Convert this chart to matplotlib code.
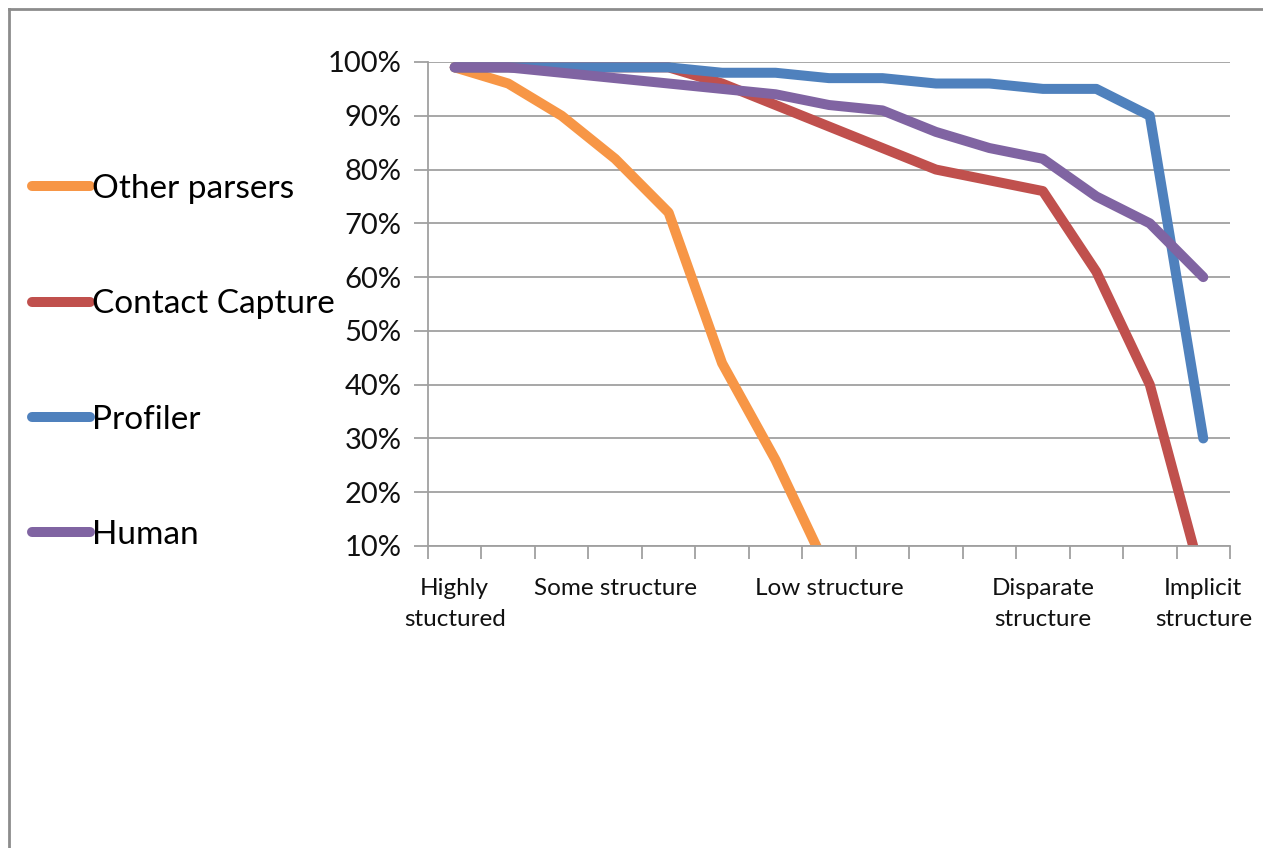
import matplotlib
matplotlib.use("Agg")
import matplotlib.pyplot as plt
from matplotlib.lines import Line2D
from matplotlib.ticker import FixedLocator, FuncFormatter

plt.rcParams['font.family'] = ['Lato', 'DejaVu Sans']

categories = list(range(1, 16))
cat_labels = {1: "Highly\nstuctured", 4: "Some structure", 8: "Low structure",
              12: "Disparate\nstructure", 15: "Implicit\nstructure"}

other_parsers   = [99, 96, 90, 82, 72, 44, 26, 5, 0, 0, 0, 0, 0, 0, 0]
contact_capture = [99, 99, 99, 99, 99, 96, 92, 88, 84, 80, 78, 76, 61, 40, 3]
profiler        = [99, 99, 99, 99, 99, 98, 98, 97, 97, 96, 96, 95, 95, 90, 30]
human           = [99, 99, 98, 97, 96, 95, 94, 92, 91, 87, 84, 82, 75, 70, 60]

series = [("Other parsers", other_parsers, "#F79646"),
          ("Contact Capture", contact_capture, "#C0504D"),
          ("Profiler", profiler, "#4F81BD"),
          ("Human", human, "#8064A2")]

fig = plt.figure(figsize=(12.63, 8.48), dpi=100)
ax = fig.add_axes([428/1263, 1-546/848, (1230-428)/1263, (546-62)/848])

LW = 7.2
for name, vals, col in series:
    ax.plot(categories, vals, color=col, lw=LW, solid_capstyle='round',
            solid_joinstyle='round', label=name)

ax.set_xlim(0.5, 15.5)
ax.set_ylim(10, 100)

grid_col = "#A0A0A0"
ax.yaxis.set_major_locator(FixedLocator(range(10, 101, 10)))
ax.yaxis.set_major_formatter(FuncFormatter(lambda v, p: f"{int(v)}%"))
ax.grid(axis='y', color=grid_col, lw=1.3)
ax.set_axisbelow(True)
ax.tick_params(axis='y', length=10, width=1.3, color=grid_col, pad=9,
               labelsize=21, labelcolor="#111111")

# category boundaries as major ticks, labels on minor ticks
ax.xaxis.set_major_locator(FixedLocator([i + 0.5 for i in range(0, 16)]))
ax.xaxis.set_major_formatter(FuncFormatter(lambda v, p: ""))
ax.tick_params(axis='x', which='major', length=9, width=1.3, color=grid_col)
ax.xaxis.set_minor_locator(FixedLocator(list(cat_labels.keys())))
ax.set_xticklabels([cat_labels[k] for k in cat_labels], minor=True)
ax.tick_params(axis='x', which='minor', length=0, pad=23, labelsize=17.5,
               labelcolor="#111111")
for t in ax.xaxis.get_minorticklabels():
    t.set_linespacing(1.6)

for s in ['top', 'right']:
    ax.spines[s].set_visible(False)
ax.spines['left'].set_color(grid_col)
ax.spines['bottom'].set_color(grid_col)
ax.spines['left'].set_linewidth(1.3)
ax.spines['bottom'].set_linewidth(1.3)

leg = ax.legend(loc='upper left', bbox_to_anchor=(32/1263, 1-174/848),
                bbox_transform=fig.transFigure, frameon=False, fontsize=24,
                handlelength=1.75, handletextpad=0.05, labelspacing=2.56,
                borderaxespad=0, borderpad=0)
for h in leg.get_lines():
    h.set_linewidth(LW)
    h.set_solid_capstyle('round')

# outer frame
fig.add_artist(Line2D([9/1263, 9/1263], [0, 1-9/848], transform=fig.transFigure,
                      color="#8C8C8C", lw=2))
fig.add_artist(Line2D([9/1263, 1], [1-9/848, 1-9/848], transform=fig.transFigure,
                      color="#8C8C8C", lw=2))

fig.savefig("out.png", dpi=100, facecolor="white")
